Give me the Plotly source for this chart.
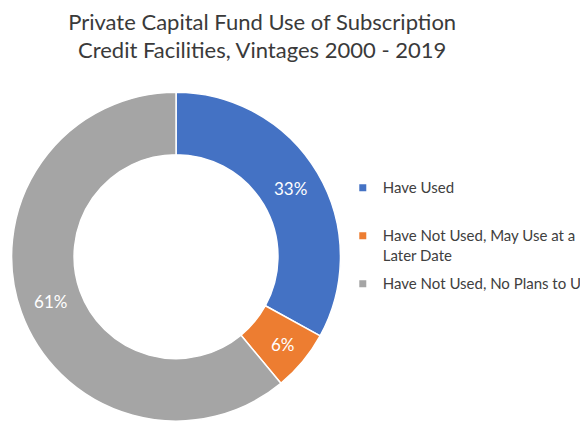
import plotly.graph_objects as go

# Données
labels = ["Have Used", "Have Not Used, May Use at a Later Date", "Have Not Used, No Plans to Use"]
legend_names = ["Have Used<br> ", "Have Not Used, May Use at a<br>Later Date", "Have Not Used, No Plans to Use"]
values = [33, 6, 61]
colors = ["#4472C4", "#ED7D31", "#A5A5A5"]

title_text = "Private Capital Fund Use of Subscription<br>Credit Facilities, Vintages 2000 - 2019"
font_family = "Lato, 'Open Sans', sans-serif"

fig = go.Figure()

fig.add_trace(go.Pie(
    labels=labels,
    values=values,
    sort=False,
    direction="clockwise",
    rotation=0,
    hole=0.62,
    marker=dict(colors=colors, line=dict(color="white", width=1.5)),
    textinfo="percent",
    textposition="inside",
    insidetextorientation="horizontal",
    textfont=dict(color="white", size=17, family=font_family),
    domain=dict(x=[0.020, 0.587], y=[0.031, 0.789]),
    showlegend=False,
))

# entrées de légende (carrés de petite taille, comme dans l'original)
for name, color, label in zip(legend_names, colors, labels):
    fig.add_trace(go.Scatter(
        x=[None], y=[None],
        mode="markers",
        name=name,
        legendgroup=label,
        marker=dict(symbol="square", size=7, color=color),
        hoverinfo="skip",
    ))

fig.update_layout(
    width=580,
    height=435,
    margin=dict(l=0, r=0, t=0, b=0, autoexpand=False),
    paper_bgcolor="white",
    plot_bgcolor="white",
    font=dict(family=font_family, color="#404040"),
    title=dict(
        text=title_text,
        x=0.452,
        xanchor="center",
        y=0.932,
        yanchor="top",
        font=dict(size=22, color="#3a3a3a", family=font_family),
    ),
    xaxis=dict(visible=False),
    yaxis=dict(visible=False),
    showlegend=True,
    legend=dict(
        x=0.591,
        xanchor="left",
        y=0.606,
        yanchor="top",
        valign="top",
        tracegroupgap=6,
        font=dict(size=15, color="#404040", family=font_family),
        bgcolor="rgba(0,0,0,0)",
    ),
)

# la marge par défaut du <body> décale tout de 8 px
fig.write_html(
    "out.html",
    config={"displayModeBar": False},
    post_script="document.body.style.margin='0';",
)
